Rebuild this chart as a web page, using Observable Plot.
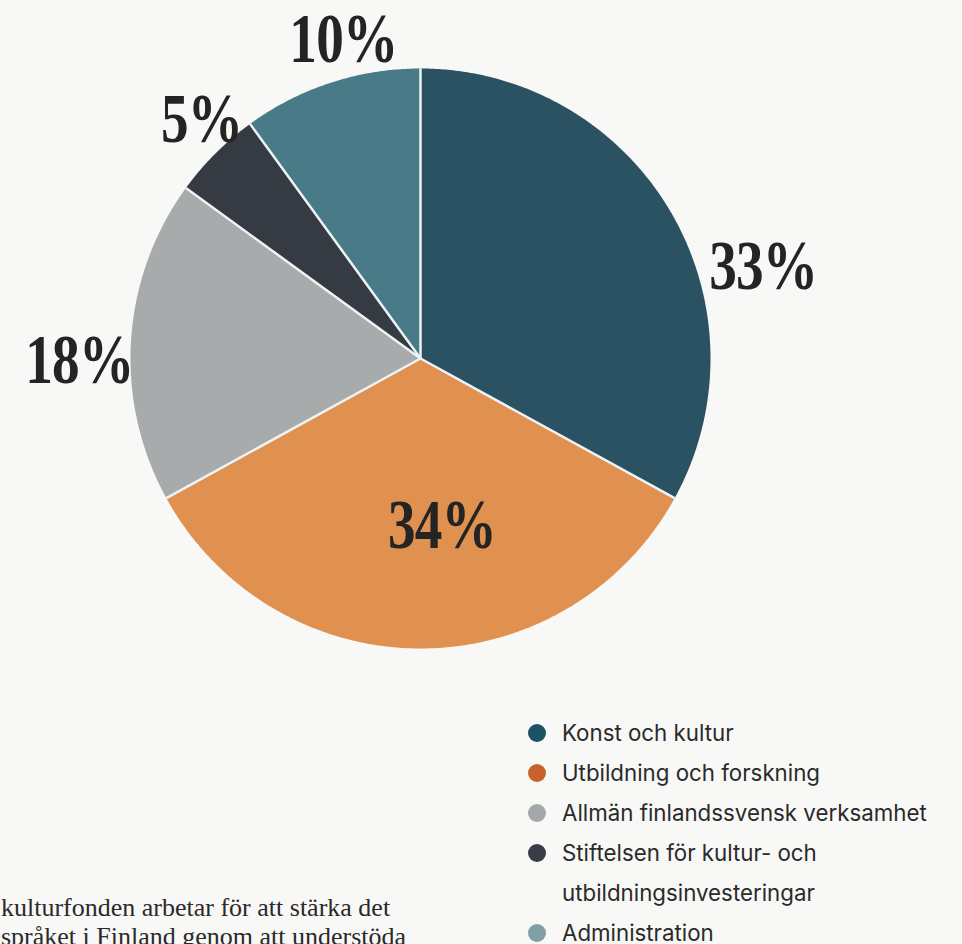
<!DOCTYPE html>
<html>
<head>
<meta charset="utf-8">
<script src="https://cdn.jsdelivr.net/npm/d3@7"></script>
<script src="https://cdn.jsdelivr.net/npm/@observablehq/plot@0.6"></script>
<style>
  html, body { margin: 0; padding: 0; background: #f8f8f6; width: 962px; height: 944px; overflow: hidden; position: relative; }
  #chart { position: absolute; left: 0; top: 0; }
  #legend { position: absolute; left: 528px; top: 713px; font-family: Inter, Roboto, "Noto Sans", sans-serif; font-size: 22.3px; color: #2a2a2a; }
  .row { display: flex; align-items: flex-start; line-height: 40px; }
  .dot { width: 18px; height: 18px; border-radius: 50%; margin-top: 11px; margin-right: 16px; flex: none; }
  #para { position: absolute; left: 1px; top: 893px; white-space: nowrap; font-family: "Liberation Serif", "DejaVu Serif", serif; font-size: 26px; line-height: 29px; color: #2a2a2a; }
</style>
</head>
<body>
<div id="chart"></div>
<div id="legend"></div>
<div id="para"></div>
<script>
// ---- data ----
const categories = ["Konst och kultur", "Utbildning och forskning", "Allmän finlandssvensk verksamhet", "Stiftelsen för kultur- och utbildningsinvesteringar", "Administration"];
const legendLabels = ["Konst och kultur", "Utbildning och forskning", "Allmän finlandssvensk verksamhet", "Stiftelsen för kultur- och\nutbildningsinvesteringar", "Administration"];
const shares = [33, 34, 18, 5, 10];
const shareLabels = ["33%", "34%", "18%", "5%", "10%"];
const paragraphLines = ["kulturfonden arbetar för att stärka det", "språket i Finland genom att understöda"];

// ---- styles / layout ----
const sliceColors = ["#2b5263", "#e0904f", "#a8abac", "#363a42", "#497a87"];
const legendColors = ["#1e5163", "#c8622c", "#a5a8aa", "#3a3d46", "#809fa6"];
const labelAngleNudge = [15.6, -7, -4, 2.4, 4.2];   // degrees
const labelRadius = [1.22, 0.58, 1.18, 1.12, 1.13]; // in pie radii

const pie = d3.pie().sort(null).value(d => d.value)(categories.map((c, i) => ({cat: c, value: shares[i], label: shareLabels[i], i})));

const poly = [];
const seps = [];
const labels = [];
for (const s of pie) {
  const cat = s.data.cat;
  poly.push({cat, x: 0, y: 0});
  const n = Math.max(2, Math.ceil((s.endAngle - s.startAngle) / (Math.PI / 360)));
  for (let k = 0; k <= n; k++) {
    const a = s.startAngle + (s.endAngle - s.startAngle) * k / n;
    poly.push({cat, x: Math.sin(a), y: Math.cos(a)});
  }
  poly.push({cat, x: 0, y: 0});
  seps.push({x1: 0, y1: 0, x2: Math.sin(s.startAngle), y2: Math.cos(s.startAngle)});
  const i = s.data.i;
  const mid = (s.startAngle + s.endAngle) / 2 + labelAngleNudge[i] * Math.PI / 180;
  labels.push({x: labelRadius[i] * Math.sin(mid), y: labelRadius[i] * Math.cos(mid), text: s.data.label});
}

const plot = Plot.plot({
  width: 962,
  height: 700,
  margin: 0,
  style: {background: "transparent", overflow: "visible"},
  x: {domain: [-1, 1], range: [130, 710], axis: null},
  y: {domain: [-1, 1], range: [648, 68], axis: null},
  color: {domain: categories, range: sliceColors},
  marks: [
    Plot.line(poly, {x: "x", y: "y", z: "cat", fill: "cat", stroke: "none", curve: "linear"}),
    Plot.link(seps, {x1: "x1", y1: "y1", x2: "x2", y2: "y2", stroke: "#eef3f5", strokeWidth: 2.5}),
    Plot.text(labels, {x: "x", y: "y", dx: 1, text: "text", fontFamily: "'Liberation Serif', serif", fontWeight: "bold", fontSize: 69, fill: "#242424", textAnchor: "middle", lineAnchor: "middle", className: "pct"})
  ]
});
// condense the big percentage labels horizontally (Didone look)
plot.querySelectorAll("g.pct text, .pct text").forEach(t => {
  const tr = t.getAttribute("transform") || "";
  t.setAttribute("transform", tr + " scale(0.8,1)");
  t.setAttribute("letter-spacing", "-1");
});
document.getElementById("chart").appendChild(plot);

const legend = d3.select("#legend");
legendLabels.forEach((l, i) => {
  const row = legend.append("div").attr("class", "row");
  row.append("span").attr("class", "dot").style("background", legendColors[i]);
  const span = row.append("span");
  l.split("\n").forEach((line, j) => { if (j) span.append("br"); span.append("span").text(line); });
});
const para = d3.select("#para");
paragraphLines.forEach((l, j) => { if (j) para.append("br"); para.append("span").text(l); });
</script>
</body>
</html>
